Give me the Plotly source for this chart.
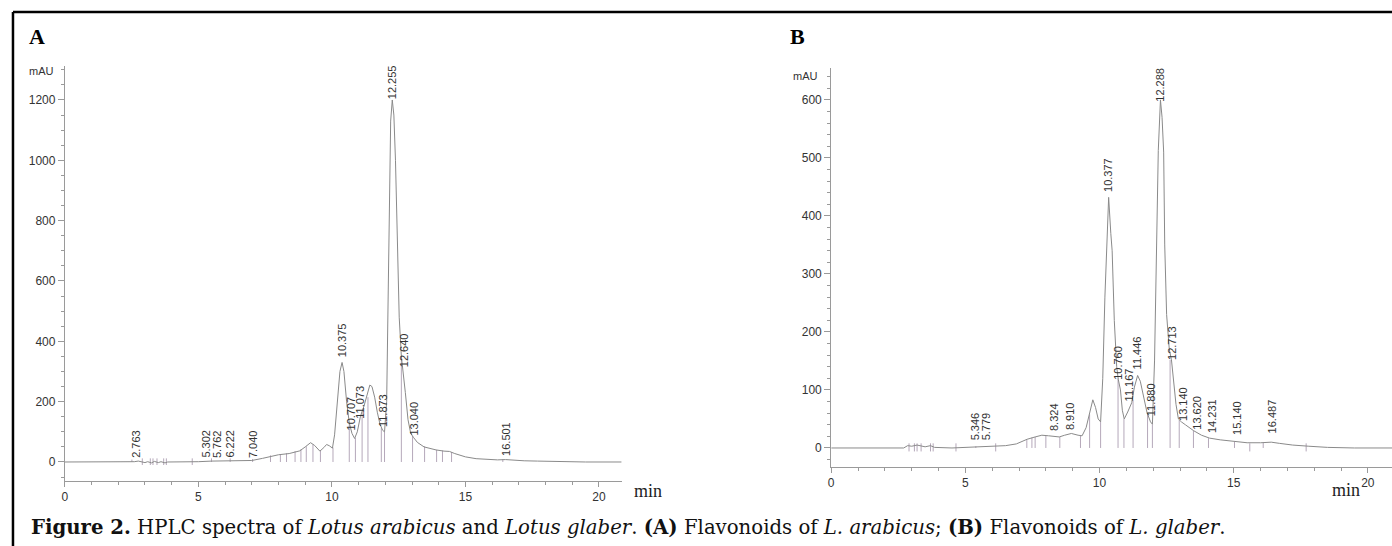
import plotly.graph_objects as go

# ---------------- Panel A : Lotus arabicus ----------------
a_time = [0, 2.4, 2.6, 2.75, 2.9, 3.0, 3.1, 3.25, 3.35, 3.5, 3.6, 3.75, 3.85, 4.7, 5.0, 5.5, 6.0, 6.5, 7.0,
          7.4, 7.7, 8.0, 8.4, 8.8, 9.0, 9.2, 9.35, 9.55, 9.7, 9.8, 9.9, 10.02, 10.1, 10.2, 10.3, 10.38, 10.45,
          10.55, 10.65, 10.75, 10.85, 10.95, 11.07, 11.2, 11.3, 11.42, 11.5, 11.6, 11.7, 11.8, 11.9, 11.97,
          12.05, 12.1, 12.15, 12.2, 12.26, 12.32, 12.38, 12.45, 12.52, 12.6, 12.66, 12.75, 12.85, 12.95,
          13.05, 13.2, 13.45, 13.7, 13.9, 14.2, 14.4, 14.6, 14.8, 15.0, 15.4, 15.8, 16.2, 16.5, 16.8, 17.2,
          17.7, 18.5, 19.5, 20.85]
a_mau = [0, 0, 1, 3, 1, -2, 1, -3, 2, -2, 1, -3, 0, 0, 1, 3, 3, 4, 5,
         12, 19, 24, 28, 37, 50, 64, 55, 36, 48, 58, 54, 46, 90, 200, 300, 330, 300,
         200, 130, 95, 78, 100, 152, 185, 215, 255, 250, 215, 165, 125, 105, 100,
         200, 550, 850, 1130, 1200, 1150, 1000, 680, 480, 350, 305, 230, 140, 95,
         82, 65, 50, 43, 40, 36, 35, 28, 22, 17, 11, 8, 7, 8, 6, 4,
         3, 1, 0, 0]
a_drop_t = [2.51, 5.49, 6.19, 7.03, 7.7, 8.07, 8.3, 8.62, 8.84, 9.04, 9.29, 9.57, 10.04, 10.65, 10.88,
            11.13, 11.35, 11.85, 11.97, 12.6, 13.02, 13.47, 13.92, 14.14, 14.48, 16.4]
a_drop_v = [8, 12, 12, 10, 22, 26, 29, 36, 42, 52, 58, 38, 48, 128, 80,
            165, 215, 112, 100, 345, 86, 52, 40, 38, 33, 9]
a_tick_t = [2.9, 3.2, 3.3, 3.45, 3.7, 3.8, 4.77]
a_peak_lbl = ["2.763", "5.302", "5.762", "6.222", "7.040", "10.375", "10.707", "11.073", "11.873",
              "12.255", "12.640", "13.040", "16.501"]
a_peak_t = [2.68, 5.27, 5.70, 6.17, 7.05, 10.39, 10.70, 11.07, 11.89, 12.26, 12.70, 13.07, 16.52]
a_peak_v = [12, 10, 10, 10, 10, 345, 100, 140, 112, 1200, 311, 84, 17]

# ---------------- Panel B : Lotus glaber ----------------
b_time = [0, 2.7, 2.85, 3.0, 3.2, 3.35, 3.5, 3.7, 3.85, 4.5, 5.0, 5.5, 6.0, 6.5, 6.9, 7.1, 7.3, 7.6,
          7.85, 8.1, 8.5, 8.7, 8.95, 9.2, 9.35, 9.5, 9.62, 9.75, 9.85, 9.95, 10.04, 10.12, 10.2, 10.26,
          10.34, 10.42, 10.47, 10.55, 10.64, 10.7, 10.78, 10.85, 10.92, 11.05, 11.2, 11.3, 11.42, 11.52,
          11.65, 11.77, 11.9, 11.97, 12.05, 12.1, 12.14, 12.19, 12.27, 12.33, 12.39, 12.43, 12.5, 12.6,
          12.68, 12.75, 12.85, 12.94, 13.05, 13.2, 13.5, 13.8, 14.1, 14.5, 15.0, 15.5, 16.0, 16.4, 16.7,
          17.2, 17.8, 18.5, 19.5, 20.9]
b_mau = [0, 0, 4, 3, 5, 3, 2, 4, 1, 0, 1, 2, 3, 4, 7, 11, 15, 19,
         22, 21, 19, 22, 25, 22, 21, 35, 60, 83, 70, 50, 45, 120, 260, 350,
         432, 370, 340, 220, 140, 118, 100, 65, 50, 62, 78, 105, 125, 115,
         85, 61, 45, 41, 150, 260, 347, 513, 600, 570, 510, 350, 230, 170,
         152, 120, 75, 50, 45, 40, 30, 22, 17, 14, 11, 9, 9, 10, 8,
         5, 3, 1, 0, 0]
b_drop_t = [5.39, 7.29, 7.48, 7.6, 8.0, 8.52, 9.29, 9.63, 10.04, 10.69, 10.91, 11.25, 11.79, 11.97,
            12.63, 12.97, 13.5, 14.06, 15.03, 16.1]
b_drop_v = [3, 14, 18, 19, 21, 19, 21, 58, 45, 120, 50, 82, 60, 41,
            152, 48, 30, 17, 11, 9]
b_tick_t = [2.9, 3.1, 3.2, 3.35, 3.7, 3.8, 4.65, 6.13, 15.6, 17.7]
b_peak_lbl = ["5.346", "5.779", "8.324", "8.910", "10.377", "10.760", "11.167", "11.446", "11.880",
              "12.288", "12.713", "13.140", "13.620", "14.231", "15.140", "16.487"]
b_peak_t = [5.35, 5.76, 8.33, 8.88, 10.34, 10.71, 11.09, 11.40, 11.90, 12.27, 12.70, 13.13, 13.60,
            14.19, 15.13, 16.44]
b_peak_v = [11, 11, 27, 30, 439, 115, 79, 133, 53, 596, 150, 44, 30, 24, 21, 24]

W, H = 1392, 546


def px(x):
    return x / W


def py(y):
    return 1 - y / H


CURVE = "#8a8a8a"
DROP = "#b5a8ba"
AXIS = "#9a9a9a"
TXT = "#333333"


def segs(ts, lo, hi):
    xs, ys = [], []
    for t, h in zip(ts, hi):
        xs += [t, t, None]
        ys += [lo, h, None]
    return xs, ys


fig = go.Figure()

# Panel A traces
dx, dy = segs(a_drop_t, 0, a_drop_v)
fig.add_trace(go.Scatter(x=dx, y=dy, mode="lines", line=dict(color=DROP, width=1),
                         xaxis="x", yaxis="y", hoverinfo="skip"))
tx, ty = segs(a_tick_t, -10, [12] * len(a_tick_t))
fig.add_trace(go.Scatter(x=tx, y=ty, mode="lines", line=dict(color=DROP, width=1),
                         xaxis="x", yaxis="y", hoverinfo="skip"))
fig.add_trace(go.Scatter(x=a_time, y=a_mau, mode="lines", line=dict(color=CURVE, width=1),
                         xaxis="x", yaxis="y"))

# Panel B traces
dx, dy = segs(b_drop_t, 0, b_drop_v)
fig.add_trace(go.Scatter(x=dx, y=dy, mode="lines", line=dict(color=DROP, width=1),
                         xaxis="x2", yaxis="y2", hoverinfo="skip"))
tx, ty = segs(b_tick_t, -6, [8] * len(b_tick_t))
fig.add_trace(go.Scatter(x=tx, y=ty, mode="lines", line=dict(color=DROP, width=1),
                         xaxis="x2", yaxis="y2", hoverinfo="skip"))
fig.add_trace(go.Scatter(x=b_time, y=b_mau, mode="lines", line=dict(color=CURVE, width=1),
                         xaxis="x2", yaxis="y2"))

tickfont = dict(family="Liberation Sans, Arial, sans-serif", size=12, color=TXT)

common_x = dict(showgrid=False, zeroline=False, showline=True, linecolor=AXIS, linewidth=1,
                ticks="outside", ticklen=5, tickcolor=AXIS, dtick=5, tick0=0,
                minor=dict(dtick=1, ticklen=3, tickcolor=AXIS, ticks="outside"),
                tickfont=tickfont, fixedrange=True)
common_y = dict(showgrid=False, zeroline=False, showline=True, linecolor=AXIS, linewidth=1,
                ticks="outside", ticklen=6, tickcolor=AXIS, tick0=0,
                tickfont=tickfont, fixedrange=True)

annotations = []
for lbl, t, v in zip(a_peak_lbl, a_peak_t, a_peak_v):
    annotations.append(dict(text=lbl, x=t, y=v, xref="x", yref="y", textangle=-90,
                            xanchor="center", yanchor="bottom", showarrow=False,
                            font=dict(family="Liberation Sans, Arial", size=11, color=TXT),
                            borderpad=0))
for lbl, t, v in zip(b_peak_lbl, b_peak_t, b_peak_v):
    annotations.append(dict(text=lbl, x=t, y=v, xref="x2", yref="y2", textangle=-90,
                            xanchor="center", yanchor="bottom", showarrow=False,
                            font=dict(family="Liberation Sans, Arial", size=11, color=TXT),
                            borderpad=0))

serif = "Liberation Serif, Times New Roman, serif"
capfont = "DejaVu Serif, serif"
annotations += [
    dict(text="<b>A</b>", x=px(24), y=py(37), xref="paper", yref="paper", xanchor="left",
         yanchor="middle", showarrow=False, font=dict(family=serif, size=22, color="#000")),
    dict(text="<b>B</b>", x=px(787), y=py(37), xref="paper", yref="paper", xanchor="left",
         yanchor="middle", showarrow=False, font=dict(family=serif, size=22, color="#000")),
    dict(text="mAU", x=px(53), y=py(71), xref="paper", yref="paper", xanchor="right",
         yanchor="middle", showarrow=False, font=dict(family="Liberation Sans, Arial", size=11, color=TXT)),
    dict(text="mAU", x=px(819), y=py(76), xref="paper", yref="paper", xanchor="right",
         yanchor="middle", showarrow=False, font=dict(family="Liberation Sans, Arial", size=11, color=TXT)),
    dict(text="min", x=px(630), y=py(491), xref="paper", yref="paper", xanchor="left",
         yanchor="middle", showarrow=False, font=dict(family=serif, size=18, color="#222")),
    dict(text="min", x=px(1346), y=py(490), xref="paper", yref="paper", xanchor="center",
         yanchor="middle", showarrow=False, font=dict(family=serif, size=18, color="#222")),
    dict(text="<b>Figure 2.</b> HPLC spectra of <i>Lotus arabicus</i> and <i>Lotus glaber</i>. "
              "<b>(A)</b> Flavonoids of <i>L. arabicus</i>; <b>(B)</b> Flavonoids of <i>L. glaber</i>.",
         x=px(26), y=py(527), xref="paper", yref="paper", xanchor="left", yanchor="middle",
         showarrow=False, font=dict(family=capfont, size=19.7, color="#111")),
]

shapes = [
    dict(type="line", xref="paper", yref="paper", x0=px(10), x1=1, y0=py(12), y1=py(12),
         line=dict(color="#000", width=2.5)),
    dict(type="line", xref="paper", yref="paper", x0=px(10), x1=px(10), y0=py(12), y1=0,
         line=dict(color="#000", width=2.5)),
]

fig.update_layout(
    width=W, height=H, margin=dict(l=0, r=0, t=0, b=0),
    paper_bgcolor="white", plot_bgcolor="white", showlegend=False,
    xaxis=dict(common_x, domain=[px(62), px(620)], range=[0, 20.85], anchor="y"),
    yaxis=dict(common_y, domain=[py(481), py(66)], range=[-63, 1312.6], dtick=200,
               minor=dict(dtick=50, ticklen=3, tickcolor=AXIS, ticks="outside"), anchor="x"),
    xaxis2=dict(common_x, domain=[px(830), 1], range=[0, 20.9], anchor="y2"),
    yaxis2=dict(common_y, domain=[py(467), py(68)], range=[-32.8, 655], dtick=100,
                minor=dict(dtick=20, ticklen=3, tickcolor=AXIS, ticks="outside"), anchor="x2"),
    annotations=annotations, shapes=shapes,
)

fig.write_html("out.html", config={"displayModeBar": False},
               post_script="document.body.style.margin='0px';document.body.style.overflow='hidden';")
